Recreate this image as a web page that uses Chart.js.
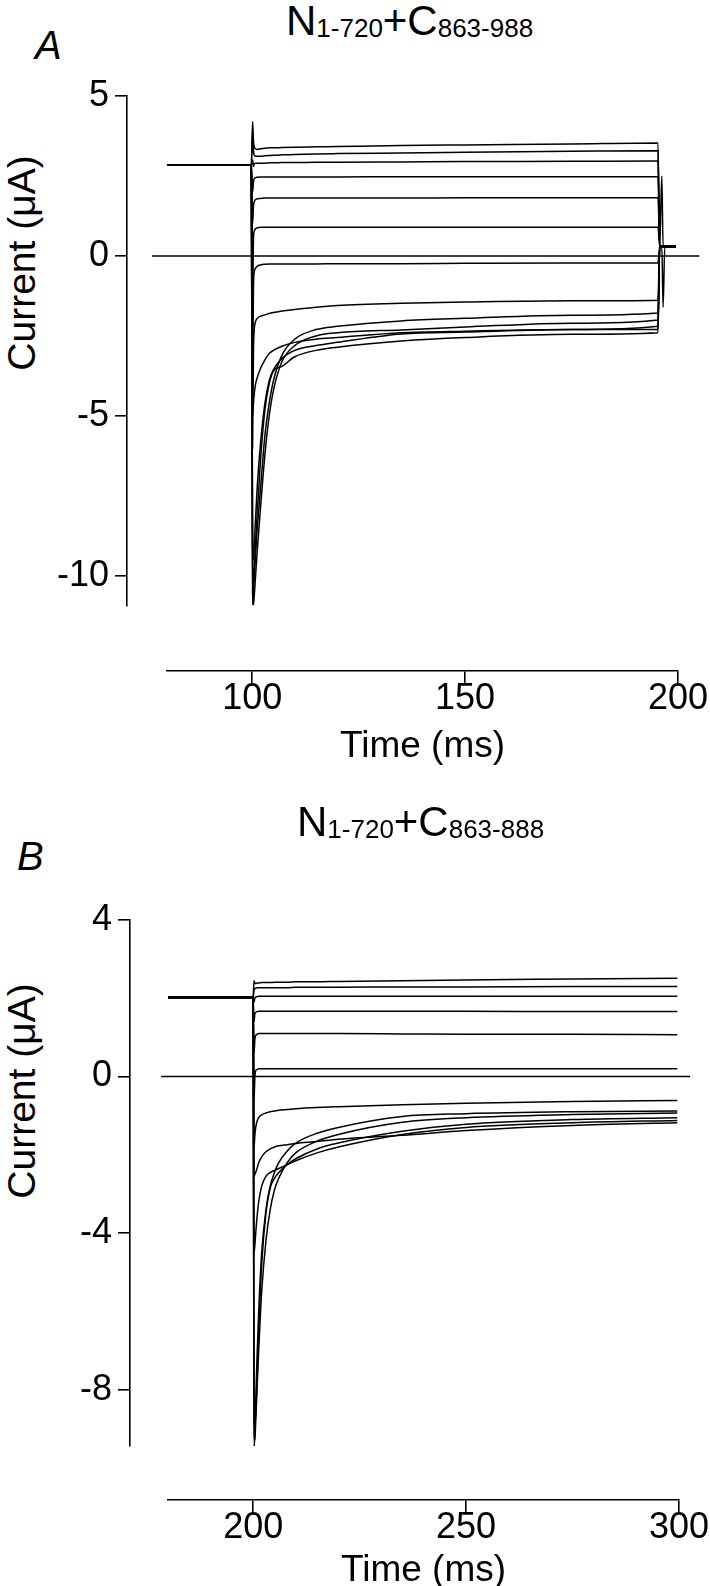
<!DOCTYPE html>
<html>
<head>
<meta charset="utf-8">
<script src="https://cdn.jsdelivr.net/npm/chart.js@4.4.1/dist/chart.umd.min.js"></script>
<style>
  body { margin: 0; background: #fff; }
  #wrap { position: relative; width: 710px; height: 1586px; font-family: "Liberation Sans", Arial, sans-serif; color: #000; }
  canvas { position: absolute; left: 0; }
  .ttl { position: absolute; font-size: 42px; line-height: 42px; white-space: nowrap; }
  .ttl span { font-size: 26px; position: relative; top: 2px; }
  .lett { position: absolute; font-size: 40px; line-height: 40px; font-style: italic; }
  .ylab { position: absolute; width: 300px; text-align: center; font-size: 39px; line-height: 40px; transform: rotate(-90deg); white-space: nowrap; }
</style>
</head>
<body>
<div id="wrap">
  <div class="lett" style="left:35px; top:25px;">A</div>
  <div class="ttl" style="left:286px; top:0px;">N<span>1-720</span>+C<span>863-988</span></div>
  <div class="ylab" style="left:-128px; top:243px;">Current (μA)</div>
  <canvas id="chartA" width="710" height="800" style="top:0"></canvas>

  <div class="lett" style="left:17px; top:836px;">B</div>
  <div class="ttl" style="left:297px; top:801px;">N<span>1-720</span>+C<span>863-888</span></div>
  <div class="ylab" style="left:-128px; top:1071px;">Current (μA)</div>
  <canvas id="chartB" width="710" height="786" style="top:800px"></canvas>
</div>
<script>
// panel A : N1-720+C863-988, time in ms, current in uA
var timeA = [80, 99.8, 100.1, 100.3, 100.5, 100.8, 101.2, 102, 103, 104, 105, 107, 110, 115, 120, 135, 150, 175, 195.3, 195.7, 196.2, 196.5, 196.9, 199.5];
var tracesA = [
  [2.85, 2.85, 4.2, 3.6, 3.4, 3.35, 3.33, 3.35, 3.37, 3.38, 3.38, 3.39, 3.4, 3.41, 3.42, 3.45, 3.47, 3.5, 3.53, 0.3, 2.5, 0.3, 0.3, 0.3],
  [2.85, 2.85, 3.9, 3.3, 3.15, 3.12, 3.12, 3.12, 3.13, 3.14, 3.15, 3.16, 3.17, 3.19, 3.2, 3.22, 3.24, 3.27, 3.29, 0.3, 0.3, 0.3, 0.3, 0.3],
  [2.85, 2.85, 3.0, 2.8, 2.88, 2.9, 2.9, 2.9, 2.9, 2.91, 2.91, 2.92, 2.92, 2.93, 2.93, 2.94, 2.95, 2.96, 2.97, 0.3, 0.3, 0.3, 0.3, 0.3],
  [2.85, 2.85, 2.0, 2.3, 2.42, 2.45, 2.46, 2.47, 2.47, 2.47, 2.47, 2.47, 2.47, 2.47, 2.47, 2.48, 2.48, 2.48, 2.48, 0.3, 0.3, 0.3, 0.3, 0.3],
  [2.85, 2.85, 1.0, 1.55, 1.7, 1.76, 1.79, 1.8, 1.81, 1.81, 1.81, 1.81, 1.81, 1.81, 1.81, 1.81, 1.82, 1.82, 1.82, 0.3, 0.3, 0.3, 0.3, 0.3],
  [2.85, 2.85, -1.5, 0.5, 0.78, 0.85, 0.88, 0.9, 0.9, 0.9, 0.9, 0.9, 0.9, 0.9, 0.9, 0.9, 0.9, 0.9, 0.9, 0.3, 0.3, 0.3, 0.3, 0.3],
  [2.85, 2.85, -4.0, -1.0, -0.5, -0.38, -0.32, -0.28, -0.26, -0.25, -0.25, -0.25, -0.25, -0.25, -0.24, -0.24, -0.23, -0.22, -0.22, 0.3, 0.3, 0.3, 0.3, 0.3],
  [2.85, 2.85, -6.0, -3.0, -2.3, -2.05, -1.95, -1.88, -1.84, -1.8, -1.77, -1.72, -1.67, -1.6, -1.55, -1.48, -1.44, -1.4, -1.38, 0.3, 0.3, 0.3, 0.3, 0.3],
  [2.85, 2.85, -5.0, -4.6, -4.3, -4.0, -3.8, -3.5, -3.25, -3.05, -2.95, -2.82, -2.7, -2.6, -2.55, -2.4, -2.35, -2.3, -2.3, 0.3, 0.3, 0.3, 0.3, 0.3],
  [2.85, 2.85, -10.9, -10.5, -10.0, -9.3, -8.5, -7.2, -5.6, -4.6, -3.9, -3.1, -2.6, -2.3, -2.2, -2.03, -1.95, -1.85, -1.78, 0.3, 0.3, -1.6, 0.3, 0.3],
  [2.85, 2.85, -10.5, -10.9, -10.6, -10.0, -9.2, -7.8, -6.2, -5.0, -4.2, -3.3, -2.8, -2.5, -2.4, -2.31, -2.22, -2.1, -2.0, 0.3, 0.3, 0.3, 0.3, 0.3],
  [2.85, 2.85, -9.0, -9.5, -9.0, -8.2, -7.2, -5.8, -4.6, -3.9, -3.55, -3.2, -2.95, -2.8, -2.7, -2.44, -2.38, -2.3, -2.2, 0.3, 0.3, 0.3, 0.3, 0.3],
  [2.85, 2.85, -9.5, -10.2, -9.8, -9.0, -8.0, -6.3, -4.8, -4.0, -3.6, -3.45, -3.15, -2.95, -2.85, -2.66, -2.55, -2.45, -2.4, 0.3, 0.3, 0.3, 0.3, 0.3]
];
var zeroLineA = [76.5, 205];
var xTicksA = [100, 150, 200];
var yTicksA = [5, 0, -5, -10];

// panel B : N1-720+C863-888
var timeB = [180, 200.0, 200.2, 200.4, 200.6, 200.9, 201.3, 202, 203, 204, 205, 206, 208, 210, 215, 220, 235, 250, 275, 299.6];
var tracesB = [
  [2.02, 2.02, 2.45, 2.38, 2.38, 2.39, 2.39, 2.4, 2.4, 2.4, 2.41, 2.41, 2.41, 2.42, 2.42, 2.43, 2.45, 2.47, 2.49, 2.51],
  [2.02, 2.02, 2.2, 2.25, 2.26, 2.27, 2.27, 2.27, 2.27, 2.27, 2.27, 2.27, 2.27, 2.28, 2.28, 2.28, 2.29, 2.29, 2.3, 2.3],
  [2.02, 2.02, 1.9, 2.0, 2.03, 2.04, 2.05, 2.05, 2.05, 2.05, 2.05, 2.05, 2.05, 2.05, 2.05, 2.05, 2.05, 2.05, 2.05, 2.05],
  [2.02, 2.02, 1.4, 1.6, 1.64, 1.66, 1.67, 1.67, 1.67, 1.67, 1.67, 1.67, 1.67, 1.67, 1.67, 1.67, 1.67, 1.67, 1.66, 1.66],
  [2.02, 2.02, 0.6, 0.95, 1.05, 1.08, 1.1, 1.1, 1.1, 1.1, 1.1, 1.1, 1.1, 1.1, 1.1, 1.1, 1.09, 1.08, 1.08, 1.07],
  [2.02, 2.02, -0.6, 0.0, 0.15, 0.18, 0.2, 0.2, 0.2, 0.2, 0.2, 0.2, 0.2, 0.2, 0.2, 0.2, 0.2, 0.2, 0.2, 0.2],
  [2.02, 2.02, -1.8, -1.5, -1.3, -1.15, -1.05, -0.98, -0.93, -0.9, -0.88, -0.86, -0.84, -0.82, -0.79, -0.77, -0.72, -0.68, -0.64, -0.61],
  [2.02, 2.02, -2.55, -2.5, -2.45, -2.35, -2.2, -2.05, -1.92, -1.85, -1.8, -1.77, -1.74, -1.71, -1.66, -1.6, -1.5, -1.38, -1.25, -1.18],
  [2.02, 2.02, -4.5, -4.3, -4.0, -3.6, -3.2, -2.8, -2.55, -2.45, -2.4, -2.35, -2.25, -2.15, -1.95, -1.8, -1.48, -1.3, -1.18, -1.12],
  [2.02, 2.02, -9.5, -9.1, -8.3, -7.2, -6.0, -4.5, -3.4, -2.8, -2.45, -2.2, -1.9, -1.7, -1.45, -1.3, -1.02, -0.95, -0.9, -0.88],
  [2.02, 2.02, -8.8, -9.3, -8.8, -8.0, -7.0, -5.5, -4.2, -3.4, -2.9, -2.6, -2.2, -1.95, -1.65, -1.48, -1.17, -1.05, -0.97, -0.93],
  [2.02, 2.02, -8.5, -8.9, -8.6, -7.8, -6.5, -4.8, -3.5, -2.85, -2.6, -2.45, -2.25, -2.1, -1.85, -1.7, -1.4, -1.22, -1.1, -1.05]
];
var zeroLineB = [178.4, 302.6];
var xTicksB = [200, 250, 300];
var yTicksB = [4, 0, -4, -8];

var FONT = '"Liberation Sans", Arial, sans-serif';

function traceSets(times, traces, zeroLine) {
  var sets = traces.map(function (vals) {
    return {
      data: times.map(function (t, i) { return { x: t, y: vals[i] }; }),
      borderColor: '#000', borderWidth: 1.5, pointRadius: 0,
      cubicInterpolationMode: 'monotone', fill: false
    };
  });
  sets.push({
    data: zeroLine.map(function (t) { return { x: t, y: 0 }; }),
    borderColor: '#000', borderWidth: 1.4, pointRadius: 0, clip: false
  });
  return sets;
}

function makeChart(id, times, traces, zeroLine, p) {
  return new Chart(document.getElementById(id), {
    type: 'line',
    data: { datasets: traceSets(times, traces, zeroLine) },
    options: {
      responsive: false, animation: false, devicePixelRatio: 1, events: [],
      layout: { padding: p.pad },
      plugins: { legend: { display: false }, tooltip: { enabled: false } },
      scales: {
        x: {
          type: 'linear', min: p.xMin, max: p.xMax,
          position: { y: p.xAxisAt },
          border: { color: '#000', width: 1.6 },
          grid: { drawOnChartArea: false, color: '#000', lineWidth: 1.6, tickLength: 12 },
          afterBuildTicks: function (s) { s.ticks = p.xTicks.map(function (v) { return { value: v }; }); },
          ticks: { color: '#000', autoSkip: false, maxRotation: 0, padding: -1.5, font: { family: FONT, size: 36, lineHeight: 1 } },
          title: { display: true, text: 'Time (ms)', color: '#000', font: { family: FONT, size: 37 }, padding: { top: p.titleGap, bottom: 0 } }
        },
        y: {
          type: 'linear', min: p.yMin, max: p.yMax,
          position: { x: p.yAxisAt },
          border: { color: '#000', width: 1.6 },
          grid: { drawOnChartArea: false, color: '#000', lineWidth: 1.6, tickLength: 11 },
          afterBuildTicks: function (s) { s.ticks = p.yTicks.map(function (v) { return { value: v }; }); },
          // labels of a positioned axis sit on the axis line, so pad them with an en space
          ticks: { color: '#000', autoSkip: false, font: { family: FONT, size: 36 },
                   callback: function (v) { return v + '\u2002'; } }
        }
      }
    }
  });
}

makeChart('chartA', timeA, tracesA, zeroLineA, {
  pad: { left: 167, right: 32, top: 96, bottom: 194 },
  xMin: 80, xMax: 200, yMin: -10.94, yMax: 5,
  xAxisAt: -12.95, yAxisAt: 70.6, xTicks: xTicksA, yTicks: yTicksA, titleGap: 9
});
makeChart('chartB', timeB, tracesB, zeroLineB, {
  pad: { left: 168, right: 31, top: 120, bottom: 140 },
  xMin: 180, xMax: 300, yMin: -9.44, yMax: 4,
  xAxisAt: -10.82, yAxisAt: 171.1, xTicks: xTicksB, yTicks: yTicksB, titleGap: 4
});
</script>
</body>
</html>
